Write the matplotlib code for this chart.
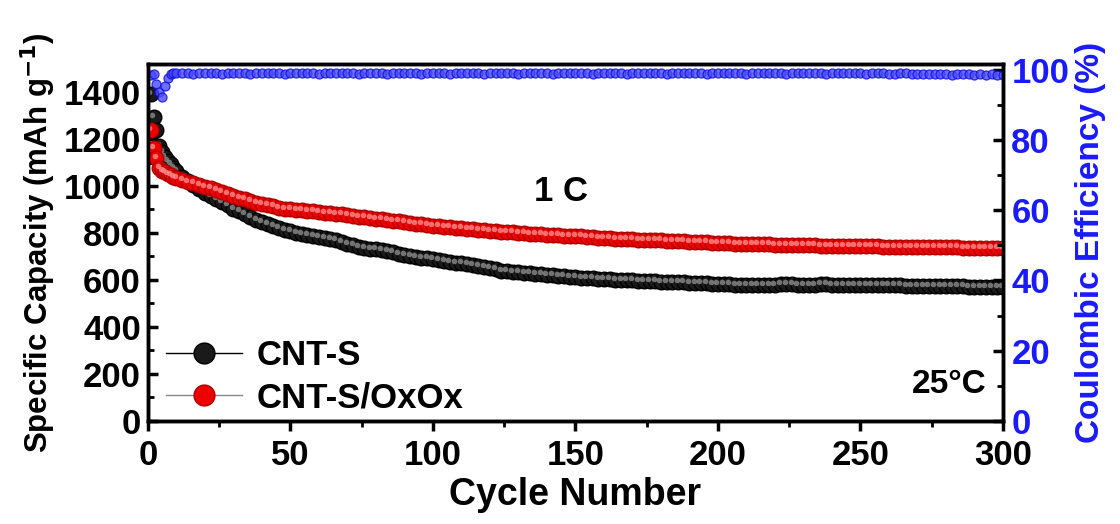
import numpy as np
import matplotlib.pyplot as plt
import matplotlib.transforms as mtransforms
from matplotlib.lines import Line2D

plt.rcParams['font.family'] = ['Liberation Sans', 'DejaVu Sans']
plt.rcParams['font.weight'] = 'bold'
plt.rcParams['axes.labelweight'] = 'bold'
plt.rcParams['mathtext.default'] = 'bf'

# cycle numbers (every cycle up to 10, then every 2nd cycle)
cycles = list(range(1, 11)) + list(range(12, 301, 2))

cnt_s = [1390, 1295, 1240, 1170, 1145, 1125, 1108, 1092, 1076, 1062,
         1040, 1020, 1003, 988, 972, 958, 944, 930, 917, 904,
         892, 880, 868, 857, 847, 838, 829, 821, 814, 807,
         801, 796, 791, 786, 782, 778, 774, 768, 760, 753,
         747, 742, 737, 733, 730, 726, 722, 717, 712, 708,
         703, 699, 695, 692, 688, 685, 682, 678, 674, 670,
         667, 664, 660, 656, 650, 645, 640, 637, 634, 632,
         630, 628, 626, 624, 622, 620, 618, 615, 613, 611,
         610, 608, 607, 605, 603, 602, 601, 600, 599, 598,
         597, 596, 595, 594, 593, 592, 591, 590, 589, 588,
         587, 586, 585, 584, 583, 582, 581, 580, 579, 578,
         578, 579, 579, 580, 580, 581, 581, 581, 580, 580,
         580, 580, 581, 581, 580, 580, 580, 579, 579, 579,
         579, 578, 578, 578, 577, 577, 577, 576, 576, 576,
         575, 575, 574, 574, 573, 573, 572, 572, 571, 571,
         571, 570, 570, 570, 569]

cnt_s_oxox = [1240, 1160, 1120, 1078, 1066, 1058, 1051, 1045, 1039, 1034,
              1026, 1018, 1011, 1004, 997, 990, 982, 975, 967, 959,
              951, 943, 935, 929, 923, 918, 913, 908, 904, 900,
              898, 896, 894, 892, 889, 887, 885, 882, 879, 876,
              873, 870, 867, 864, 861, 858, 855, 852, 849, 846,
              843, 840, 837, 834, 831, 829, 826, 824, 822, 820,
              818, 816, 814, 812, 810, 808, 806, 804, 802, 800,
              798, 797, 795, 794, 792, 791, 790, 788, 787, 786,
              785, 783, 782, 780, 779, 778, 776, 775, 774, 773,
              772, 771, 770, 769, 768, 767, 766, 765, 764, 763,
              762, 761, 760, 759, 758, 757, 756, 755, 754, 753,
              753, 752, 751, 751, 750, 750, 749, 749, 748, 748,
              747, 747, 746, 746, 745, 745, 745, 744, 744, 744,
              743, 743, 743, 742, 742, 742, 741, 741, 741, 740,
              740, 740, 740, 739, 739, 739, 739, 738, 738, 738,
              738, 737, 737, 737, 737]

ce = [98.6, 98.9, 96.0, 93.8, 92.3, 95.5, 97.8, 98.7, 99.0, 99.1,
      99.0, 99.2, 98.9, 99.1, 99.0, 99.2, 99.1, 98.9, 99.0, 99.1,
      99.2, 99.0, 98.8, 99.1, 99.0, 99.1, 99.2, 99.0, 98.9, 99.1,
      99.0, 99.2, 99.1, 99.0, 98.8, 99.1, 99.0, 99.2, 99.1, 99.0,
      99.1, 98.9, 99.0, 99.2, 99.1, 99.0, 98.9, 99.1, 99.0, 99.2,
      99.0, 99.1, 98.9, 99.0, 99.2, 99.1, 99.0, 98.8, 99.1, 99.0,
      99.1, 99.2, 99.0, 98.9, 99.1, 99.0, 99.1, 99.2, 99.0, 98.9,
      99.0, 99.1, 99.2, 99.0, 99.1, 98.9, 99.0, 99.1, 99.0, 99.2,
      99.1, 99.0, 98.8, 99.0, 99.1, 99.2, 99.0, 99.1, 98.9, 99.0,
      99.1, 99.0, 99.2, 99.1, 99.0, 98.9, 99.0, 99.1, 99.0, 99.1,
      99.2, 99.0, 98.9, 99.1, 99.0, 99.1, 99.0, 99.2, 99.0, 98.9,
      99.0, 99.1, 99.0, 99.2, 99.1, 99.0, 98.9, 99.0, 99.1, 99.0,
      99.1, 99.2, 99.0, 98.9, 99.0, 99.1, 99.0, 99.1, 99.2, 99.0,
      98.9, 99.0, 99.1, 99.0, 98.7, 98.8, 99.0, 99.1, 98.9, 98.8,
      98.7, 98.8, 98.9, 98.8, 98.7, 98.6, 98.7, 98.8, 98.7, 98.6,
      98.7, 98.6, 98.7, 98.6, 98.6]

fig = plt.figure(figsize=(11.2, 5.24), dpi=100)
ax = fig.add_axes([0.132, 0.197, 0.7635, 0.681])
ax2 = ax.twinx()

hl = mtransforms.offset_copy(ax.transData, fig=fig, x=-1.5, y=2.0, units='dots')

# capacity curves, drawn as shaded balls
ax.plot(cycles, cnt_s, 'o', ms=10.5, mfc='#1a1a1a', mec='black', mew=1.0, zorder=3)
ax.plot(cycles, cnt_s, 'o', ms=4, mfc='#8c8c8c', mec='none', alpha=0.8, transform=hl, zorder=3)
ax.plot(cycles, cnt_s_oxox, 'o', ms=10.5, mfc='#ee0000', mec='#b00000', mew=1.0, zorder=4)
ax.plot(cycles, cnt_s_oxox, 'o', ms=4, mfc='#ff8a8a', mec='none', alpha=0.8, transform=hl, zorder=4)

# coulombic efficiency
ax2.plot(cycles, ce, 'o', ms=6.5, mfc='#4a4aff', mec='#0c0cd8', mew=0.9, alpha=0.8)

ax.set_xlim(0, 300)
ax.set_ylim(0, 1520)
ax2.set_ylim(0, 101.7)

ax.set_xticks(np.arange(0, 301, 50))
ax.set_xticks(np.arange(25, 300, 50), minor=True)
ax.set_yticks(np.arange(0, 1401, 200))
ax.set_yticks(np.arange(100, 1500, 200), minor=True)
ax2.set_yticks(np.arange(0, 101, 20))
ax2.set_yticks(np.arange(10, 100, 20), minor=True)

ax.tick_params(axis='x', which='major', direction='out', length=7, width=2.5, labelsize=25, pad=6)
ax.tick_params(axis='x', which='minor', direction='out', length=4, width=2)
ax.tick_params(axis='y', which='major', direction='in', length=7, width=2.5, labelsize=25, pad=5)
ax.tick_params(axis='y', which='minor', direction='in', length=4, width=2)
ax2.tick_params(axis='y', which='major', direction='in', length=7, width=2.5, labelsize=25,
                labelcolor='#1a1aff', pad=6)
ax2.tick_params(axis='y', which='minor', direction='in', length=4, width=2)

for a in (ax, ax2):
    for s in a.spines.values():
        s.set_linewidth(2.5)

ax.set_xlabel('Cycle Number', fontsize=27, labelpad=4)
ax.set_ylabel('Specific Capacity (mAh g$^{-1}$)', fontsize=22.5, labelpad=4)
ax2.set_ylabel('Coulombic Efficiency (%)', fontsize=24, color='#1a1aff', labelpad=4)

ax.text(145, 976, '1 C', fontsize=25, ha='center', va='center')
ax.text(281, 153, '25°C', fontsize=24, ha='center', va='center')

handles = [
    Line2D([], [], color='black', lw=1, marker='o', ms=15, mfc='#1a1a1a', mec='black'),
    Line2D([], [], color='#888888', lw=1, marker='o', ms=15, mfc='#ee0000', mec='#b00000'),
]
ax.legend(handles, ['CNT-S', 'CNT-S/OxOx'], loc='lower left', bbox_to_anchor=(0.005, -0.02),
          frameon=False, fontsize=25, handlelength=2.2, handletextpad=0.4,
          labelspacing=0.25, borderaxespad=0.0)

fig.savefig('out.png', dpi=100)
